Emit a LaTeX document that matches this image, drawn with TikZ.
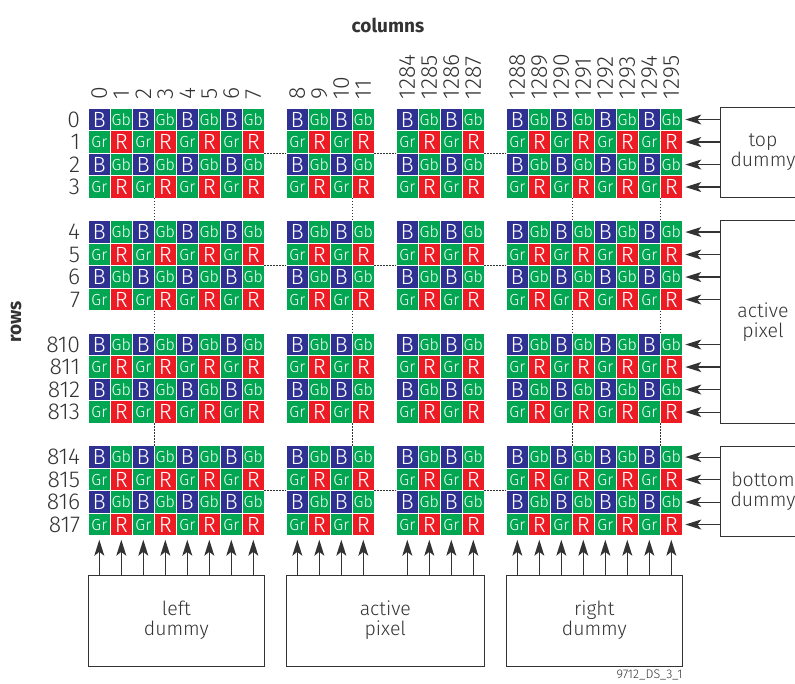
\documentclass[tikz,border=0pt]{standalone}
\usepackage{fontspec}
\IfFontExistsTF{Fira Sans Light}
  {\setmainfont{Fira Sans Light}[BoldFont={Fira Sans Bold}]}
  {\setmainfont{Fira Sans}}
\usetikzlibrary{arrows.meta}
\definecolor{pxblue}{RGB}{46,49,146}
\definecolor{pxgreen}{RGB}{0,166,81}
\definecolor{pxred}{RGB}{237,28,36}
\definecolor{ink}{RGB}{51,51,51}
\tikzset{
  px/.style={draw=white, line width=0.8pt, minimum width=22pt, minimum height=22.5pt,
             inner sep=0pt, outer sep=0pt, text=white},
  pxB/.style={px, fill=pxblue, font=\fontsize{22}{22}\selectfont},
  pxR/.style={px, fill=pxred, font=\fontsize{22}{22}\selectfont},
  pxGb/.style={px, fill=pxgreen, font=\fontsize{16}{16}\selectfont},
  pxGr/.style={px, fill=pxgreen, font=\fontsize{16}{16}\selectfont},
  idx/.style={inner sep=0pt, text=ink, font=\fontsize{23}{23}\selectfont},
  ttl/.style={inner sep=0pt, text=ink, font=\fontsize{19}{19}\selectfont\bfseries},
  dbox/.style={draw=ink, line width=1pt, align=center, text=ink, inner sep=0pt,
               font=\fontsize{19.5}{20}\selectfont},
  arr/.style={draw=ink, line width=1.1pt, -{Stealth[length=16pt, width=10pt, inset=4pt]}},
  dots/.style={draw=ink, line width=1pt, dash pattern=on 1.2pt off 1.8pt},
}
% column slot / column number, one empty slot between the blocks
\def\colset{0/0,1/1,2/2,3/3,4/4,5/5,6/6,7/7,9/8,10/9,11/10,12/11,14/1284,15/1285,16/1286,
  17/1287,19/1288,20/1289,21/1290,22/1291,23/1292,24/1293,25/1294,26/1295}
\def\rowset{0/0,1/1,2/2,3/3,5/4,6/5,7/6,8/7,10/810,11/811,12/812,13/813,15/814,16/815,
  17/816,18/817}

\begin{document}
\begin{tikzpicture}[x=1pt, y=-1pt]
  \useasboundingbox (0,0) rectangle (795,684);

  % bayer cells
  \foreach \rs/\rl in \rowset {
    \foreach \cs/\cl in \colset {
      \ifodd\rl\relax \ifodd\cl\relax\def\pxk{R}\else\def\pxk{Gr}\fi
      \else \ifodd\cl\relax\def\pxk{Gb}\else\def\pxk{B}\fi\fi
      \node[px\pxk] (c-\rl-\cl) at ({99.3+22*\cs},{119.55+22.5*\rs}) {\pxk};
    }
  }

  % numbers
  \foreach \cs/\cl in \colset
    \node[idx, rotate=90, anchor=west] (cn-\cl) at ([yshift=9pt]c-0-\cl.north) {\cl};
  \foreach \rs/\rl in \rowset
    \node[idx, anchor=east] (rn-\rl) at ([xshift=-8pt]c-\rl-0.west) {\rl};

  \node[ttl] (coltitle) at (388,25) {columns};
  \node[ttl, rotate=90] (rowtitle) at (16,322) {rows};

  % dummy / active boxes
  \node[dbox, minimum width=86pt, minimum height=90.5pt] (topdum) at (763,152.5) {top\\dummy};
  \node[dbox, minimum width=86pt, minimum height=202.6pt] (actdum) at (763,322) {active\\pixel};
  \node[dbox, minimum width=86pt, minimum height=90pt] (botdum) at (763,491.7) {bottom\\dummy};
  \node[dbox, minimum width=176pt, minimum height=91pt] (ldum) at (176.3,620.5) {left\\dummy};
  \node[dbox, minimum width=198pt, minimum height=91pt] (adum) at (385.3,620.5) {active\\pixel};
  \node[dbox, minimum width=176pt, minimum height=91pt] (rdum) at (594.3,620.5) {right\\dummy};
  \node[anchor=north east, inner sep=0pt, text=ink, font=\fontsize{12.5}{12.5}\selectfont]
    (figid) at ([yshift=-3pt]rdum.south east) {9712\_DS\_3\_1};

  % row arrows
  \foreach \rl/\bx in {0/topdum,1/topdum,2/topdum,3/topdum,4/actdum,5/actdum,6/actdum,7/actdum,
      810/actdum,811/actdum,812/actdum,813/actdum,814/botdum,815/botdum,816/botdum,817/botdum}
    \draw[arr] (\bx.west |- c-\rl-1295.east) -- ([xshift=3pt]c-\rl-1295.east);

  % column arrows
  \foreach \cl/\bx in {0/ldum,1/ldum,2/ldum,3/ldum,4/ldum,5/ldum,6/ldum,7/ldum,8/adum,9/adum,
      10/adum,11/adum,1284/adum,1285/adum,1286/adum,1287/adum,1288/rdum,1289/rdum,1290/rdum,
      1291/rdum,1292/rdum,1293/rdum,1294/rdum,1295/rdum}
    \draw[arr] (\bx.north -| c-817-\cl.south) -- ([yshift=-4pt]c-817-\cl.south);

  % dotted continuation
  \foreach \ra/\rb in {1/2,5/6,815/816}
    \foreach \ca/\cb in {7/8,11/1284,1287/1288}
      \draw[dots] (c-\ra-\ca.south east) -- (c-\rb-\cb.north west);
  \foreach \ra/\rb in {3/4,7/810,813/814}
    \foreach \ca in {2,10,1290,1294}
      \draw[dots] (c-\ra-\ca.south east) -- (c-\rb-\ca.north east);
\end{tikzpicture}
\end{document}
